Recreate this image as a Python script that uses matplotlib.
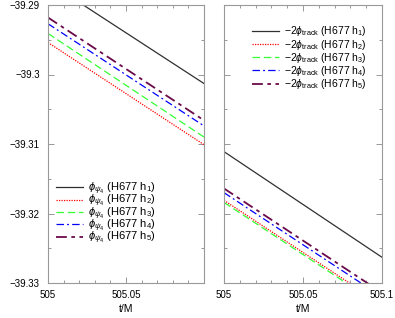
import matplotlib
matplotlib.use("Agg")
import matplotlib.pyplot as plt
from matplotlib.ticker import MultipleLocator

plt.rcParams['font.family'] = ['Liberation Sans', 'DejaVu Sans']
plt.rcParams['mathtext.fontset'] = 'custom'
plt.rcParams['mathtext.rm'] = 'Liberation Sans'
plt.rcParams['mathtext.it'] = 'Liberation Sans:italic'
plt.rcParams['mathtext.bf'] = 'Liberation Sans:bold'
plt.rcParams['mathtext.fallback'] = 'stixsans'

# time samples (t/M) at the ends of the straight segments
t = [505.0, 505.1]

# left panel: phi_psi4 for the five resolutions
phi_psi4 = {
    'h1': [-39.2867, -39.3013],
    'h2': [-39.2954, -39.3101],
    'h3': [-39.2941, -39.3090],
    'h4': [-39.2927, -39.3074],
    'h5': [-39.2918, -39.3066],
}
# right panel: -2 phi_track
phi_track = {
    'h1': [-39.3111, -39.3263],
    'h2': [-39.3181, -39.3331],
    'h3': [-39.3184, -39.3334],
    'h4': [-39.3170, -39.3320],
    'h5': [-39.3164, -39.3314],
}
res_labels = ['1', '2', '3', '4', '5']

styles = [
    dict(color='#303030', ls='-', lw=0.9),
    dict(color='red', ls=(0, (1, 1)), lw=0.9),
    dict(color='#33ff33', ls=(0, (6, 3)), lw=0.9),
    dict(color='blue', ls=(0, (6, 2.5, 1.5, 2.5)), lw=0.9),
    dict(color='#6a0a4a', ls=(0, (6, 2.5, 2, 2.5)), lw=1.3),
]

fig = plt.figure(figsize=(3.95, 3.18), dpi=100)
ax1 = fig.add_axes([48/395, 35/318, 156/395, 278/318])
ax2 = fig.add_axes([224/395, 35/318, 158/395, 278/318])

for key, r, st in zip(phi_psi4, res_labels, styles):
    ax1.plot(t, phi_psi4[key], label=r'$\phi_{\psi_4}$ (H677 h$_%s$)' % r, **st)
for key, r, st in zip(phi_track, res_labels, styles):
    ax2.plot(t, phi_track[key], label=r'$-2\phi_{\rm track}$ (H677 h$_%s$)' % r, **st)

for ax in (ax1, ax2):
    ax.set_xlim(505.0, 505.1)
    ax.set_ylim(-39.33, -39.29)
    ax.xaxis.set_major_locator(MultipleLocator(0.05))
    ax.xaxis.set_minor_locator(MultipleLocator(0.01))
    ax.yaxis.set_major_locator(MultipleLocator(0.01))
    ax.yaxis.set_minor_locator(MultipleLocator(0.005))
    ax.tick_params(which='both', direction='in', top=True, right=True,
                   color='#888888', labelsize=7)
    ax.tick_params(which='major', length=4, width=0.6)
    ax.tick_params(which='minor', length=2, width=0.6)
    ax.tick_params(axis='y', pad=6)
    ax.tick_params(axis='x', pad=5)
    for sp in ax.spines.values():
        sp.set_color('#999999')
        sp.set_linewidth(0.8)
    ax.set_xlabel('t/M', fontsize=7.5, labelpad=3)

ax1.set_xticks([505.0, 505.05, 505.1])
ax1.set_xticklabels(['505', '505.05', ''])
ax1.set_yticks([-39.33, -39.32, -39.31, -39.30, -39.29])
ax1.set_yticklabels(['\u221239.33', '\u221239.32', '\u221239.31', '\u221239.3', '\u221239.29'])
ax2.set_xticks([505.0, 505.05, 505.1])
ax2.set_xticklabels(['505', '505.05', '505.1'])
ax2.set_yticks([-39.33, -39.32, -39.31, -39.30, -39.29])
ax2.tick_params(labelleft=False)

ax1.legend(loc='center', bbox_to_anchor=(0.37, 0.25), frameon=False, fontsize=8,
           handlelength=2.4, handletextpad=0.45, labelspacing=-0.36, borderpad=0)
ax2.legend(loc='center', bbox_to_anchor=(0.54, 0.81), frameon=False, fontsize=7.5,
           handlelength=2.6, handletextpad=0.5, labelspacing=-0.08, borderpad=0)

fig.savefig('out.png', dpi=100)
